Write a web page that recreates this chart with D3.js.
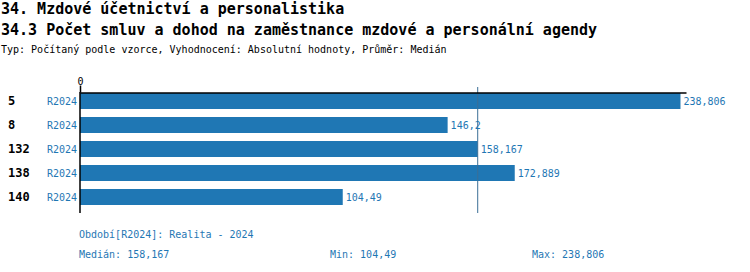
<!DOCTYPE html>
<html>
<head>
<meta charset="utf-8">
<script src="https://cdn.jsdelivr.net/npm/d3@7"></script>
<style>
  body { margin: 0; background: #fff; }
  svg { font-family: "DejaVu Sans Mono", "Liberation Mono", monospace; }
</style>
</head>
<body>
<svg id="chart" width="750" height="272"></svg>
<script>
// data
var categories = ["5", "8", "132", "138", "140"];
var periods = ["R2024", "R2024", "R2024", "R2024", "R2024"];
var values = [238.806, 146.2, 158.167, 172.889, 104.49];
var median = 158.167;
var minVal = 104.49;
var maxVal = 238.806;
var titles = ["34. Mzdové účetnictví a personalistika",
  "34.3 Počet smluv a dohod na zaměstnance mzdové a personální agendy"];
var subtitle = "Typ: Počítaný podle vzorce, Vyhodnocení: Absolutní hodnoty, Průměr: Medián";
var periodNote = "Období[R2024]: Realita - 2024";

var blue = "#1f77b4";

//czech number format, comma as decimal separator
function fmt(v) {
  return String(+v.toFixed(3)).replace(".", ",");
}

var svg = d3.select("#chart");

svg.selectAll(".title")
  .data(titles)
  .enter().append("text")
  .attr("x", 1)
  .attr("y", function(d, i) { return 14 + i * 21; })
  .attr("font-size", 15)
  .attr("font-weight", "bold")
  .text(function(d) { return d; });

svg.append("text")
  .attr("x", 1)
  .attr("y", 53)
  .attr("font-size", 10)
  .text(subtitle);

var x = d3.scaleLinear().domain([0, 241]).range([80, 686]);
var y = d3.scaleBand().domain(categories).range([93, 213])
  .paddingInner(1 / 3).paddingOuter(1 / 6).align(0);

//bars
svg.selectAll(".bar")
  .data(values)
  .enter().append("rect")
  .attr("x", x(0))
  .attr("y", function(d, i) { return y(categories[i]); })
  .attr("width", function(d) { return x(d) - x(0); })
  .attr("height", y.bandwidth())
  .attr("fill", blue);

//median line
svg.append("line")
  .attr("x1", x(median)).attr("x2", x(median))
  .attr("y1", 87).attr("y2", 213)
  .attr("stroke", "#3a6f96")
  .attr("stroke-width", 1);

//top axis with only zero tick
var axis = svg.append("g")
  .attr("transform", "translate(0,92.5)")
  .call(d3.axisTop(x).tickValues([0]).tickSize(7).tickSizeOuter(0));
axis.select(".domain").attr("stroke", "#000").attr("stroke-width", 1.5);
axis.selectAll(".tick line").attr("stroke", "#000").attr("stroke-width", 1.5);
axis.selectAll(".tick text")
  .attr("font-family", "DejaVu Sans Mono, monospace")
  .attr("font-size", 10)
  .attr("dy", "0.2em")
  .attr("fill", "#000");

svg.append("line")
  .attr("x1", x(0)).attr("x2", x(0))
  .attr("y1", 92).attr("y2", 213)
  .attr("stroke", "#000")
  .attr("stroke-width", 1.5);

//category labels
svg.selectAll(".cat")
  .data(categories)
  .enter().append("text")
  .attr("x", 8)
  .attr("y", function(d) { return y(d) + y.bandwidth() / 2; })
  .attr("dy", "0.35em")
  .attr("font-size", 12)
  .attr("font-weight", "bold")
  .text(function(d) { return d; });

svg.selectAll(".per")
  .data(periods)
  .enter().append("text")
  .attr("x", 77)
  .attr("y", function(d, i) { return y(categories[i]) + y.bandwidth() / 2; })
  .attr("dy", "0.35em")
  .attr("text-anchor", "end")
  .attr("font-size", 10)
  .attr("fill", blue)
  .text(function(d) { return d; });

//value labels
svg.selectAll(".val")
  .data(values)
  .enter().append("text")
  .attr("x", function(d) { return x(d) + 3; })
  .attr("y", function(d, i) { return y(categories[i]) + y.bandwidth() / 2; })
  .attr("dy", "0.35em")
  .attr("font-size", 10)
  .attr("fill", blue)
  .text(function(d) { return fmt(d); });

//footer
svg.append("text")
  .attr("x", 79).attr("y", 238)
  .attr("font-size", 10)
  .attr("fill", blue)
  .text(periodNote);

var stats = [["Medián: " + fmt(median), 79], ["Min: " + fmt(minVal), 330], ["Max: " + fmt(maxVal), 532]];
svg.selectAll(".stat")
  .data(stats)
  .enter().append("text")
  .attr("x", function(d) { return d[1]; })
  .attr("y", 258)
  .attr("font-size", 10)
  .attr("fill", blue)
  .text(function(d) { return d[0]; });
</script>
</body>
</html>
